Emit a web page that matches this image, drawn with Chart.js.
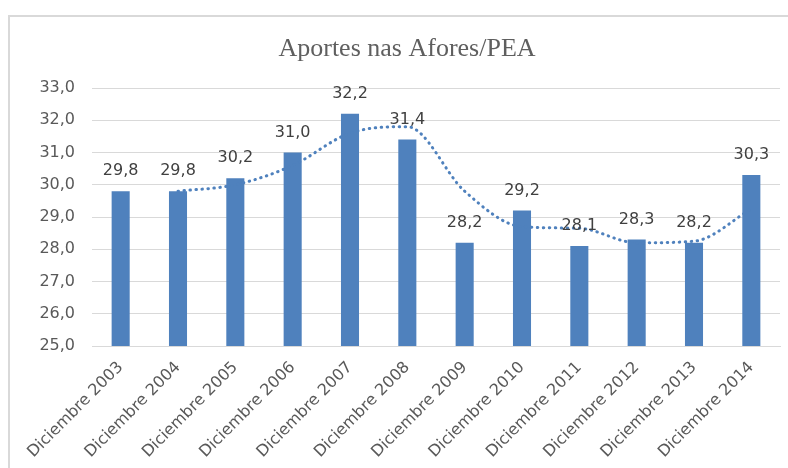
<!DOCTYPE html>
<html>
<head>
<meta charset="utf-8">
<script src="https://cdn.jsdelivr.net/npm/chart.js@4/dist/chart.umd.min.js"></script>
<style>
  html, body { margin: 0; padding: 0; background: #fff; }
  #wrap { position: relative; width: 788px; height: 468px; overflow: hidden; }
  #frame { position: absolute; left: 8px; top: 15px; width: 800px; height: 480px;
           border-left: 2px solid #d9d9d9; border-top: 2px solid #d9d9d9; }
  #c { position: absolute; left: 0; top: 0; }
</style>
</head>
<body>
<div id="wrap">
  <div id="frame"></div>
  <canvas id="c" width="788" height="468"></canvas>
</div>
<script>
// values
const chartTitle = "Aportes nas Afores/PEA";
const categories = [
    "Diciembre 2003", "Diciembre 2004", "Diciembre 2005", "Diciembre 2006",
    "Diciembre 2007", "Diciembre 2008", "Diciembre 2009", "Diciembre 2010",
    "Diciembre 2011", "Diciembre 2012", "Diciembre 2013", "Diciembre 2014"
];
const aportes = [29.8, 29.8, 30.2, 31.0, 32.2, 31.4, 28.2, 29.2, 28.1, 28.3, 28.2, 30.3];
// dotted trend line (2-period moving average as drawn)
const trend = [null, 29.8, 30.0, 30.6, 31.6, 31.8, 29.8, 28.7, 28.65, 28.2, 28.25, 29.25];
const yMin = 25;
const yMax = 33;
const yStep = 1;

const barColor = "#4f81bd";
const textColor = "#595959";
const gridColor = "#d9d9d9";
const sansFont = "'DejaVu Sans', sans-serif";

function formatComma(v) {
    return Number(v).toFixed(1).replace(".", ",");
}

const titlePlugin = {
    id: "titleText",
    afterDraw(chart) {
        const ctx = chart.ctx;
        ctx.save();
        ctx.font = "26px 'Liberation Serif', serif";
        ctx.fillStyle = "#5f5f5f";
        ctx.textAlign = "center";
        ctx.textBaseline = "alphabetic";
        ctx.fillText(chartTitle, 407, 56);
        ctx.restore();
    }
};

const valueLabels = {
    id: "valueLabels",
    afterDatasetsDraw(chart) {
        const ctx = chart.ctx;
        const meta = chart.getDatasetMeta(0);
        ctx.save();
        ctx.font = "16px " + sansFont;
        ctx.fillStyle = "#404040";
        ctx.textAlign = "center";
        ctx.textBaseline = "middle";
        meta.data.forEach((bar, i) => {
            ctx.fillText(formatComma(aportes[i]), bar.x, bar.y - 20);
        });
        ctx.restore();
    }
};

new Chart(document.getElementById("c").getContext("2d"), {
    data: {
        labels: categories,
        datasets: [
            {
                type: "bar",
                label: "Aportes",
                data: aportes,
                backgroundColor: barColor,
                borderWidth: 0,
                barPercentage: 0.45,
                categoryPercentage: 0.7,
                order: 2
            },
            {
                type: "line",
                label: "Tendencia",
                data: trend,
                borderColor: barColor,
                borderWidth: 3,
                borderDash: [0.5, 5.5],
                borderCapStyle: "round",
                pointRadius: 0,
                fill: false,
                cubicInterpolationMode: "monotone",
                order: 1
            }
        ]
    },
    options: {
        responsive: false,
        animation: false,
        layout: { padding: { left: 0, right: 8, top: 88, bottom: 0 } },
        plugins: {
            legend: { display: false },
            title: { display: false },
            tooltip: { enabled: false }
        },
        scales: {
            x: {
                grid: { display: false, drawTicks: false },
                border: { display: true, color: gridColor },
                ticks: {
                    color: textColor,
                    font: { family: sansFont, size: 16 },
                    minRotation: 45,
                    maxRotation: 45,
                    padding: 12,
                    autoSkip: false
                },
                afterFit(scale) { scale.height = 122; }
            },
            y: {
                min: yMin,
                max: yMax,
                grid: { color: gridColor, drawTicks: false, lineWidth: 1 },
                border: { display: false },
                ticks: {
                    stepSize: yStep,
                    color: textColor,
                    font: { family: sansFont, size: 16 },
                    padding: 17,
                    callback: (v) => formatComma(v)
                },
                afterFit(scale) { scale.width = 92; }
            }
        }
    },
    plugins: [titlePlugin, valueLabels]
});
</script>
</body>
</html>
